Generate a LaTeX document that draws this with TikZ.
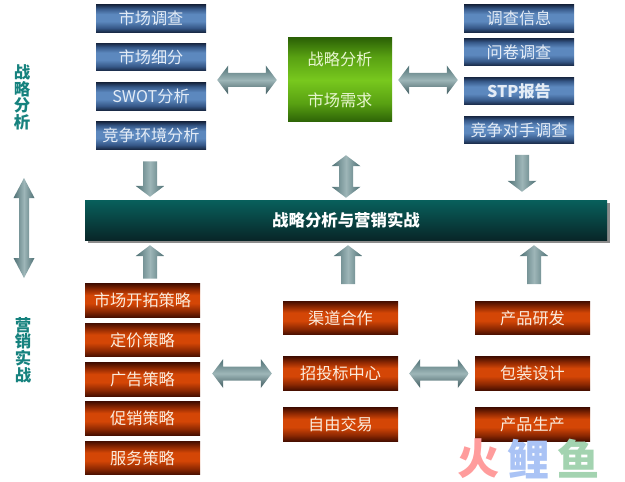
\documentclass[tikz,border=0pt]{standalone}
\usepackage{fontspec}
\setmainfont{Noto Sans CJK SC}
\usepackage{xcolor}
\usetikzlibrary{calc,shadows}
\definecolor{mybluedark}{RGB}{24,40,68}
\definecolor{mybluemid}{RGB}{54,88,136}
\definecolor{myblue}{RGB}{92,136,190}
\definecolor{myreddark}{RGB}{70,14,0}
\definecolor{myredmid}{RGB}{140,40,2}
\definecolor{myred}{RGB}{212,70,6}
\definecolor{mygreendark}{RGB}{44,98,6}
\definecolor{mygreenmid}{RGB}{88,160,18}
\definecolor{mygreen}{RGB}{120,200,30}
\definecolor{myteal}{RGB}{8,96,92}
\definecolor{mytealdark}{RGB}{8,38,40}
\definecolor{mylabel}{RGB}{22,130,126}
\definecolor{myarrow}{RGB}{158,182,184}
\definecolor{myarrowdark}{RGB}{78,112,116}
\definecolor{myarrowdeep}{RGB}{62,90,94}
\definecolor{mybluetext}{RGB}{228,236,246}
\definecolor{myredtext}{RGB}{250,236,222}
\definecolor{mygreentext}{RGB}{232,246,208}
\definecolor{logored}{RGB}{255,156,156}
\definecolor{logoblue}{RGB}{170,195,245}
\definecolor{logogreen}{RGB}{163,211,176}
\pgfdeclareverticalshading{bluebar}{100bp}{color(0bp)=(mybluedark);color(25bp)=(mybluedark);color(33bp)=(mybluemid);color(45bp)=(myblue);color(58bp)=(myblue);color(68bp)=(mybluemid);color(75bp)=(mybluedark);color(100bp)=(mybluedark)}
\pgfdeclareverticalshading{redbar}{100bp}{color(0bp)=(myreddark);color(25bp)=(myreddark);color(34bp)=(myredmid);color(46bp)=(myred);color(58bp)=(myred);color(67bp)=(myredmid);color(75bp)=(myreddark);color(100bp)=(myreddark)}
\pgfdeclareverticalshading{greenbar}{100bp}{color(0bp)=(mygreendark);color(25bp)=(mygreendark);color(36bp)=(mygreenmid);color(50bp)=(mygreen);color(64bp)=(mygreenmid);color(75bp)=(mygreendark);color(100bp)=(mygreendark)}
\newdimen\pxu \pxu=0.03cm
\def\gapa{0}\def\gapb{0}
\def\shaftw{7}\def\headw{14.5}\def\headl{11}
\tikzset{
  bar/.style={minimum height=27.5*\pxu,inner sep=0pt,font=\fontsize{13.8}{14}\selectfont},
  bluebox/.style={bar,minimum width=110*\pxu,shading=bluebar,text=mybluetext},
  redbox/.style={bar,minimum width=115*\pxu,minimum height=33.5*\pxu,shading=redbar,text=myredtext},
  greenbox/.style={minimum width=104*\pxu,minimum height=84*\pxu,inner sep=0pt,shading=greenbar,text=mygreentext,
    align=center,font=\fontsize{13.8}{35}\selectfont},
  banner/.style={minimum width=522*\pxu,minimum height=40*\pxu,inner sep=0pt,top color=myteal,bottom color=mytealdark,
    text=white,font=\fontsize{14}{14}\selectfont\bfseries,
    drop shadow={shadow xshift=3*\pxu,shadow yshift=-3*\pxu,fill=black!45,opacity=1}},
  sidelabel/.style={inner sep=0pt,align=center,text=mylabel,font=\fontsize{14}{14.2}\selectfont\bfseries},
  logo/.style={inner sep=0pt,font=\fontsize{36}{36}\selectfont\bfseries},
  gaps/.code 2 args={\def\gapa{#1}\def\gapb{#2}},
  sizes/.code n args={3}{\def\shaftw{#1}\def\headw{#2}\def\headl{#3}},
  hshade/.style={shade,top color=myarrowdark,bottom color=myarrowdeep,middle color=myarrow},
  vshade/.style={shade,left color=myarrowdark,right color=myarrowdark,middle color=myarrow},
  % block arrows, pointing from node to node
  hboth/.style={hshade,to path={let \p1=(\tikztostart),\p2=(\tikztotarget) in
    (\x1+\gapa*\pxu,\y1) -- ++(\headl*\pxu,\headw*\pxu) -- ++(0,-\headw*\pxu+\shaftw*\pxu)
    -- (\x2-\gapb*\pxu-\headl*\pxu,\y1+\shaftw*\pxu) -- ++(0,\headw*\pxu-\shaftw*\pxu) -- (\x2-\gapb*\pxu,\y1)
    -- ++(-\headl*\pxu,-\headw*\pxu) -- ++(0,\headw*\pxu-\shaftw*\pxu)
    -- (\x1+\gapa*\pxu+\headl*\pxu,\y1-\shaftw*\pxu) -- ++(0,-\headw*\pxu+\shaftw*\pxu) -- cycle}},
  vboth/.style={vshade,to path={let \p1=(\tikztostart),\p2=(\tikztotarget),\n1={sign(\y2-\y1)} in
    (\x1,\y1+\n1*\gapa*\pxu) -- ++(\headw*\pxu,\n1*\headl*\pxu) -- ++(-\headw*\pxu+\shaftw*\pxu,0)
    -- (\x1+\shaftw*\pxu,\y2-\n1*\gapb*\pxu-\n1*\headl*\pxu) -- ++(\headw*\pxu-\shaftw*\pxu,0) -- (\x1,\y2-\n1*\gapb*\pxu)
    -- ++(-\headw*\pxu,-\n1*\headl*\pxu) -- ++(\headw*\pxu-\shaftw*\pxu,0)
    -- (\x1-\shaftw*\pxu,\y1+\n1*\gapa*\pxu+\n1*\headl*\pxu) -- ++(-\headw*\pxu+\shaftw*\pxu,0) -- cycle}},
  vone/.style={vshade,to path={let \p1=(\tikztostart),\p2=(\tikztotarget),\n1={sign(\y2-\y1)} in
    (\x1-\shaftw*\pxu,\y1+\n1*\gapa*\pxu) -- (\x1+\shaftw*\pxu,\y1+\n1*\gapa*\pxu)
    -- (\x1+\shaftw*\pxu,\y2-\n1*\gapb*\pxu-\n1*\headl*\pxu) -- ++(\headw*\pxu-\shaftw*\pxu,0) -- (\x1,\y2-\n1*\gapb*\pxu)
    -- ++(-\headw*\pxu,-\n1*\headl*\pxu) -- ++(\headw*\pxu-\shaftw*\pxu,0) -- cycle}},
}

\begin{document}
\begin{tikzpicture}[x=0.03cm,y=-0.03cm]
  \useasboundingbox (0,0) rectangle (625,481);

  % Research columns
  \node[bluebox] (survey) at (151,18.5) {市场调查};
  \node[bluebox] (segment) at (151,57) {市场细分};
  \node[bluebox] (swot) at (151,96.5) {SWOT分析};
  \node[bluebox] (rivalry) at (151,135.5) {竞争环境分析};
  \node[bluebox] (info) at (519,18.5) {调查信息};
  \node[bluebox] (quest) at (519,52) {问卷调查};
  \node[bluebox] (stp) at (519,91) {\bfseries STP报告};
  \node[bluebox] (rivals) at (519,130) {竞争对手调查};
  \node[greenbox] (demand) at (340,80) {战略分析\\市场需求};

  \node[banner] (practice) at (346,220) {战略分析与营销实战};

  % Marketing columns
  \node[redbox] (expand) at (142.5,300.5) {市场开拓策略};
  \node[redbox] (pricing) at (142.5,340) {定价策略};
  \node[redbox] (advert) at (142.5,379.5) {广告策略};
  \node[redbox] (promo) at (142.5,418.5) {促销策略};
  \node[redbox] (service) at (142.5,458) {服务策略};
  \node[redbox] (channel) at (340.5,318) {渠道合作};
  \node[redbox] (tender) at (340.5,373.5) {招投标中心};
  \node[redbox] (trade) at (340.5,424.5) {自由交易};
  \node[redbox] (develop) at (532.5,318) {产品研发};
  \node[redbox] (package) at (532.5,373.5) {包装设计};
  \node[redbox] (produce) at (532.5,424.5) {产品生产};

  % Side labels
  \node[sidelabel] (labeltop) at (22,97.5) {战\\略\\分\\析};
  \node[sidelabel] (labelbot) at (23,350) {营\\销\\实\\战};
  \coordinate (sidetop) at (24,178);
  \coordinate (sidebot) at (24,278);
  \path[vboth,sizes={5}{10.5}{20}] (sidetop) to (sidebot);

  % Block arrows
  \path[hboth,gaps={11}{0}] (demand.west -| swot.east) to ([xshift=-11*\pxu]demand.west);
  \path[hboth,gaps={6}{6}] (demand.east) to (demand.east -| stp.west);
  \path[hboth,gaps={12}{11}] (tender.west -| expand.east) to (tender.west);
  \path[hboth,gaps={11}{6}] (tender.east) to (package.west);
  \path[vone,gaps={12}{3}] ([xshift=-1*\pxu]rivalry.south) to (practice.north -| rivalry.south);
  \path[vone,gaps={11}{8}] ([xshift=3*\pxu]rivals.south) to (practice.north -| rivals.south);
  \path[vboth,gaps={33}{2}] ([xshift=6*\pxu]demand.south) to (practice.north);
  \path[vone,gaps={5}{5}] ([xshift=7.5*\pxu]expand.north) to (practice.south -| expand.north);
  \path[vone,gaps={17}{5}] ([xshift=7.5*\pxu]channel.north) to (practice.south -| channel.north);
  \path[vone,gaps={17}{5}] ([xshift=1.5*\pxu]develop.north) to (practice.south -| develop.north);

  % Watermark
  \node[logo,text=logored] (fire) at (479,459) {火};
  \node[logo,text=logoblue] (carp) at (529,459) {鲤};
  \node[logo,text=logogreen] (fish) at (579,459) {鱼};
\end{tikzpicture}
\end{document}
